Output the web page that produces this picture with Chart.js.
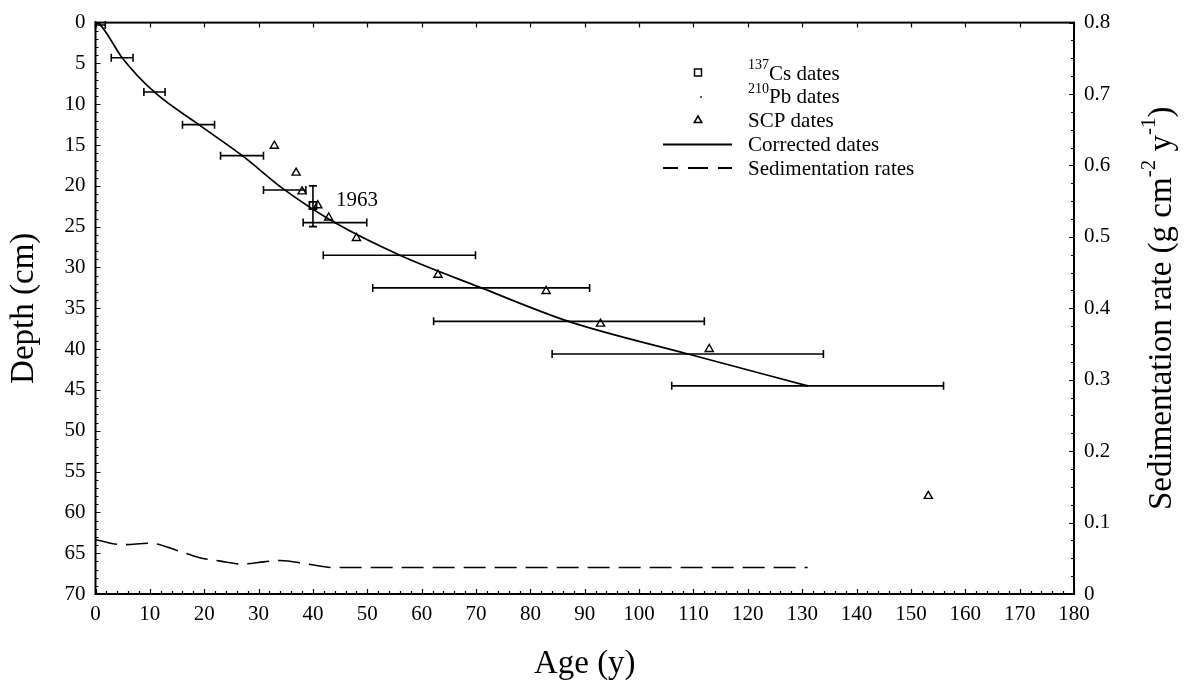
<!DOCTYPE html>
<html>
<head>
<meta charset="utf-8">
<title>Core dating: depth vs age</title>
<script src="https://cdn.jsdelivr.net/npm/chart.js@4.4.1/dist/chart.umd.min.js"></script>
<style>
  html, body { margin: 0; padding: 0; background: #ffffff; }
  #wrap { width: 1187px; height: 682px; position: relative; }
</style>
</head>
<body>
<div id="wrap"><canvas id="chart" width="1187" height="682"></canvas></div>
<script>
// 210Pb dates: age (y) with min/max range, at sample depth (cm)
const pbAge    = [0.9, 4.9, 10.8, 19.0, 27.0, 34.8, 44.0, 56.0, 71.0, 87.0, 109.0, 131.0];
const pbAgeMin = [0.0, 2.9,  8.9, 16.0, 23.0, 30.9, 38.2, 41.9, 51.0, 62.2,  84.0, 106.0];
const pbAgeMax = [1.8, 6.9, 12.8, 21.9, 30.9, 38.7, 49.9, 69.9, 90.9, 112.0, 133.9, 156.0];
const pbDepth  = [0.3, 4.3,  8.5, 12.5, 16.3, 20.5, 24.5, 28.5, 32.5, 36.6,  40.6,  44.5];

// 137Cs peak (1963) with depth range
const csAge = [40];
const csDepth = [22.4];
const csDepthMin = [20.0];
const csDepthMax = [25.0];
const csLabel = '1963';

// SCP dates
const scpAge   = [32.9, 36.9, 38.0, 40.9, 42.9, 48.0, 63.0, 82.9, 92.9, 112.9, 153.2];
const scpDepth = [15.1, 18.4, 20.7, 22.4, 23.9, 26.4, 30.9, 32.9, 36.9,  40.0,  58.0];

// Corrected age-depth model
const corrAge   = [0, 0.9, 4.9, 10.8, 19.0, 27.0, 34.8, 44.0, 56.0, 71.0, 87.0, 109.0, 131.0];
const corrDepth = [0, 0.3, 4.3,  8.5, 12.5, 16.3, 20.5, 24.5, 28.5, 32.5, 36.6,  40.6,  44.5];

// Sedimentation rate (g cm-2 y-1) against age
const rateAge = [0,     5,     10,    15,    19,    23,    27,    31,    34,    39,    44,    131];
const rateVal = [0.076, 0.069, 0.071, 0.061, 0.051, 0.046, 0.042, 0.045, 0.047, 0.042, 0.037, 0.037];

// Axis tick settings
const xTicks = { min: 0, max: 180, step: 10, minor: 2 };
const depthTicks = { min: 0, max: 70, step: 5, minor: 1 };
const rateTicks = { min: 0, max: 0.8, step: 0.1, minor: 0.025 };

const SERIF = '"Liberation Serif", "Times New Roman", Times, serif';
const INK = '#000000';

const pts = (xs, ys) => xs.map((x, i) => ({ x: x, y: ys[i] }));

// Horizontal error bars for 210Pb and vertical for 137Cs
const errorBars = {
  id: 'errorBars',
  afterDatasetsDraw(chart) {
    const { ctx, scales: { x, y } } = chart;
    ctx.save();
    ctx.strokeStyle = INK;
    ctx.lineWidth = 1.6;
    const cap = 4;
    pbAge.forEach((a, i) => {
      const x0 = x.getPixelForValue(pbAgeMin[i]);
      const x1 = x.getPixelForValue(pbAgeMax[i]);
      const py = y.getPixelForValue(pbDepth[i]);
      ctx.beginPath();
      ctx.moveTo(x0, py); ctx.lineTo(x1, py);
      ctx.moveTo(x0, py - cap); ctx.lineTo(x0, py + cap);
      ctx.moveTo(x1, py - cap); ctx.lineTo(x1, py + cap);
      ctx.stroke();
    });
    csAge.forEach((a, i) => {
      const px = x.getPixelForValue(a);
      const y0 = y.getPixelForValue(csDepthMin[i]);
      const y1 = y.getPixelForValue(csDepthMax[i]);
      ctx.beginPath();
      ctx.moveTo(px, y0); ctx.lineTo(px, y1);
      ctx.moveTo(px - cap, y0); ctx.lineTo(px + cap, y0);
      ctx.moveTo(px - cap, y1); ctx.lineTo(px + cap, y1);
      ctx.stroke();
    });
    ctx.restore();
  }
};

// Box frame and inward tick marks
const frameTicks = {
  id: 'frameTicks',
  afterDraw(chart) {
    const { ctx, chartArea: a, scales: { x, y, yR } } = chart;
    ctx.save();
    ctx.strokeStyle = INK;
    ctx.lineWidth = 2;
    ctx.strokeRect(a.left, a.top, a.right - a.left, a.bottom - a.top);
    ctx.lineWidth = 1.2;
    const eps = 1e-6;
    ctx.beginPath();
    for (let v = xTicks.min; v <= xTicks.max + eps; v += xTicks.minor) {
      const px = Math.round(x.getPixelForValue(v)) + 0.5;
      const major = Math.abs(v / xTicks.step - Math.round(v / xTicks.step)) < eps;
      ctx.moveTo(px, a.bottom); ctx.lineTo(px, a.bottom - (major ? 5 : 3));
      if (major) { ctx.moveTo(px, a.top); ctx.lineTo(px, a.top + 5); }
    }
    for (let v = depthTicks.min; v <= depthTicks.max + eps; v += depthTicks.minor) {
      const py = Math.round(y.getPixelForValue(v)) + 0.5;
      const major = Math.abs(v / depthTicks.step - Math.round(v / depthTicks.step)) < eps;
      ctx.moveTo(a.left, py); ctx.lineTo(a.left + (major ? 5 : 3), py);
    }
    for (let v = rateTicks.min; v <= rateTicks.max + eps; v += rateTicks.minor) {
      const py = Math.round(yR.getPixelForValue(v)) + 0.5;
      const major = Math.abs(v / rateTicks.step - Math.round(v / rateTicks.step)) < eps;
      ctx.moveTo(a.right, py); ctx.lineTo(a.right - (major ? 5 : 3), py);
    }
    ctx.stroke();
    ctx.restore();
  }
};

// Draw a run of text pieces, some of them superscript
function richWidth(ctx, parts, size) {
  let w = 0;
  parts.forEach(p => {
    ctx.font = (p.sup ? Math.round(size * 0.65) : size) + 'px ' + SERIF;
    w += ctx.measureText(p.t).width;
  });
  return w;
}
function drawRich(ctx, parts, x, y, size) {
  let cx = x;
  parts.forEach(p => {
    const s = p.sup ? Math.round(size * 0.65) : size;
    ctx.font = s + 'px ' + SERIF;
    ctx.fillText(p.t, cx, p.sup ? y - size * 0.5 : y);
    cx += ctx.measureText(p.t).width;
  });
}

// Axis titles, legend and the 1963 annotation
const texts = {
  id: 'texts',
  afterDraw(chart) {
    const { ctx, chartArea: a, scales: { x, y } } = chart;
    ctx.save();
    ctx.fillStyle = INK;
    ctx.strokeStyle = INK;
    ctx.textBaseline = 'alphabetic';
    ctx.textAlign = 'left';
    const midY = (a.top + a.bottom) / 2;
    const titleSize = 33;

    // x title
    const xt = [{ t: 'Age (y)' }];
    const xw = richWidth(ctx, xt, titleSize);
    drawRich(ctx, xt, (a.left + a.right) / 2 - xw / 2, 673, titleSize);

    // left title
    ctx.save();
    ctx.translate(33, midY);
    ctx.rotate(-Math.PI / 2);
    const lt = [{ t: 'Depth (cm)' }];
    drawRich(ctx, lt, -richWidth(ctx, lt, titleSize) / 2, 0, titleSize);
    ctx.restore();

    // right title
    ctx.save();
    ctx.translate(1171, midY);
    ctx.rotate(-Math.PI / 2);
    const rt = [{ t: 'Sedimentation rate (g cm' }, { t: '-2', sup: true }, { t: ' y' }, { t: '-1', sup: true }, { t: ')' }];
    drawRich(ctx, rt, -richWidth(ctx, rt, titleSize) / 2, 0, titleSize);
    ctx.restore();

    // 1963 label next to the 137Cs point
    ctx.font = '21px ' + SERIF;
    ctx.fillText(csLabel, x.getPixelForValue(csAge[0]) + 23, y.getPixelForValue(csDepth[0]) + 1);

    // legend
    const lx = 748, sx = 698, rows = [79.5, 103, 127, 151, 174.5];
    const ls = 21;
    drawRich(ctx, [{ t: '137', sup: true }, { t: 'Cs dates' }], lx, rows[0], ls);
    drawRich(ctx, [{ t: '210', sup: true }, { t: 'Pb dates' }], lx, rows[1], ls);
    drawRich(ctx, [{ t: 'SCP dates' }], lx, rows[2], ls);
    drawRich(ctx, [{ t: 'Corrected dates' }], lx, rows[3], ls);
    drawRich(ctx, [{ t: 'Sedimentation rates' }], lx, rows[4], ls);

    ctx.lineWidth = 1.5;
    // square
    ctx.strokeRect(sx - 3.5, rows[0] - 10.5, 7, 7);
    // dot
    ctx.beginPath(); ctx.arc(sx + 3, rows[1] - 6, 0.9, 0, Math.PI * 2); ctx.fill();
    // triangle
    ctx.beginPath();
    ctx.moveTo(sx, rows[2] - 11); ctx.lineTo(sx + 3.8, rows[2] - 4.5); ctx.lineTo(sx - 3.8, rows[2] - 4.5); ctx.closePath();
    ctx.stroke();
    // solid line
    ctx.lineWidth = 1.8;
    ctx.beginPath(); ctx.moveTo(663, rows[3] - 6.5); ctx.lineTo(732, rows[3] - 6.5); ctx.stroke();
    // dashed line
    ctx.beginPath();
    ctx.moveTo(663, rows[4] - 6.5); ctx.lineTo(678, rows[4] - 6.5);
    ctx.moveTo(688, rows[4] - 6.5); ctx.lineTo(708, rows[4] - 6.5);
    ctx.moveTo(718, rows[4] - 6.5); ctx.lineTo(732, rows[4] - 6.5);
    ctx.stroke();
    ctx.restore();
  }
};

const tickFont = { family: SERIF, size: 21 };

new Chart(document.getElementById('chart'), {
  type: 'scatter',
  data: {
    datasets: [
      {
        label: 'Sedimentation rates',
        type: 'line',
        data: pts(rateAge, rateVal),
        yAxisID: 'yR',
        borderColor: INK,
        borderWidth: 1.6,
        borderDash: [22, 9],
        pointRadius: 0,
        cubicInterpolationMode: 'monotone',
        fill: false
      },
      {
        label: 'Corrected dates',
        type: 'line',
        data: pts(corrAge, corrDepth),
        yAxisID: 'y',
        borderColor: INK,
        borderWidth: 1.7,
        pointRadius: 0,
        cubicInterpolationMode: 'monotone',
        fill: false
      },
      {
        label: '210Pb dates',
        data: pts(pbAge, pbDepth),
        yAxisID: 'y',
        pointRadius: 1,
        pointBackgroundColor: INK,
        pointBorderColor: INK,
        pointBorderWidth: 0
      },
      {
        label: '137Cs dates',
        data: pts(csAge, csDepth),
        yAxisID: 'y',
        pointStyle: 'rect',
        pointRadius: 5,
        pointBackgroundColor: 'rgba(0,0,0,0)',
        pointBorderColor: INK,
        pointBorderWidth: 1.8
      },
      {
        label: 'SCP dates',
        data: pts(scpAge, scpDepth),
        yAxisID: 'y',
        pointStyle: 'triangle',
        pointRadius: 4.7,
        pointBackgroundColor: 'rgba(0,0,0,0)',
        pointBorderColor: INK,
        pointBorderWidth: 1.4
      }
    ]
  },
  options: {
    responsive: false,
    animation: false,
    events: [],
    layout: { padding: { top: 19, left: 0, right: 0, bottom: 0 } },
    plugins: { legend: { display: false }, tooltip: { enabled: false } },
    scales: {
      x: {
        type: 'linear', position: 'bottom',
        min: xTicks.min, max: xTicks.max,
        ticks: { stepSize: xTicks.step, font: tickFont, color: INK, maxRotation: 0, padding: 8 },
        grid: { display: false, drawTicks: false },
        border: { display: false },
        afterFit(s) { s.height = 88; }
      },
      y: {
        type: 'linear', position: 'left', reverse: true,
        min: depthTicks.min, max: depthTicks.max,
        ticks: { stepSize: depthTicks.step, font: tickFont, color: INK, padding: 10 },
        grid: { display: false, drawTicks: false },
        border: { display: false },
        afterFit(s) { s.width = 95.5; }
      },
      yR: {
        type: 'linear', position: 'right',
        min: rateTicks.min, max: rateTicks.max,
        ticks: { stepSize: rateTicks.step, font: tickFont, color: INK, padding: 10,
                 callback: v => (Math.round(v * 10) / 10).toString() },
        grid: { display: false, drawTicks: false },
        border: { display: false },
        afterFit(s) { s.width = 113; }
      }
    }
  },
  plugins: [errorBars, frameTicks, texts]
});
</script>
</body>
</html>
